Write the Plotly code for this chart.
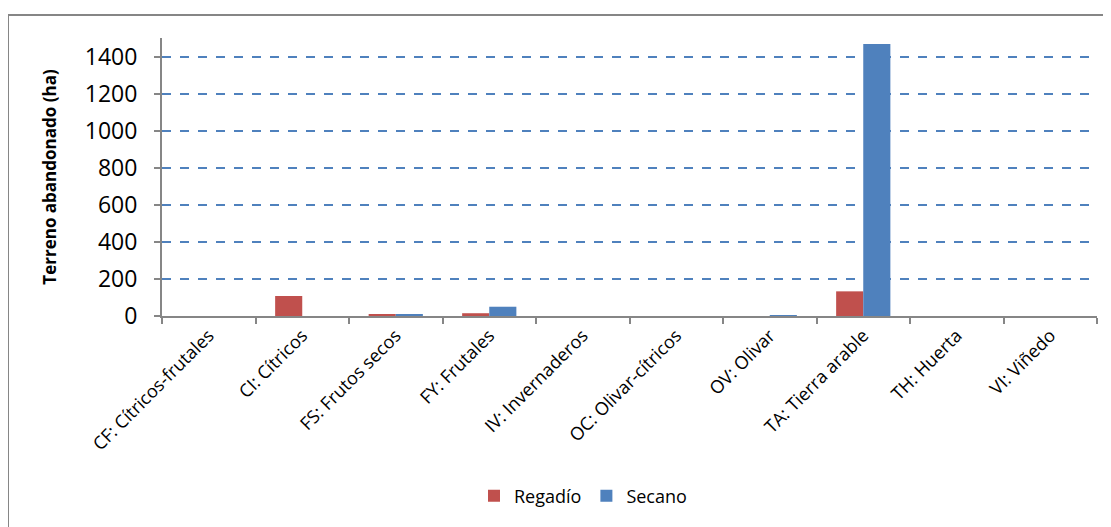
import plotly.graph_objects as go

categories = ["CF: Cítricos-frutales", "CI: Cítricos", "FS: Frutos secos", "FY: Frutales",
              "IV: Invernaderos", "OC: Olivar-cítricos", "OV: Olivar", "TA: Tierra arable",
              "TH: Huerta", "VI: Viñedo"]
regadio = [0, 108, 10, 15, 0, 0, 0, 133, 0, 0]
secano = [0, 0, 10, 50, 0, 0, 2, 1468, 0, 0]
y_ticks = [0, 200, 400, 600, 800, 1000, 1200, 1400]

FONT = "Open Sans"

fig = go.Figure()
fig.add_trace(go.Bar(x=categories, y=regadio, name="Regadío",
                     marker=dict(color="#C0504D", line=dict(width=0))))
fig.add_trace(go.Bar(x=categories, y=secano, name="Secano",
                     marker=dict(color="#4F81BD", line=dict(width=0))))

# page has 8px body margin: figure pixel = page pixel - 8
L, R, T, B = 154, 22, 30, 219
PW = 1111 - L - R
PH = 527 - T - B

fig.update_layout(
    width=1111, height=527,
    margin=dict(l=L, r=R, t=T, b=B),
    plot_bgcolor="white", paper_bgcolor="white",
    barmode="group", bargap=0.42, bargroupgap=0,
    font=dict(family=FONT, color="black"),
    showlegend=True,
    legend=dict(orientation="h", x=(466 - L) / PW, xanchor="left",
                y=(308 - 488) / PH, yanchor="middle",
                font=dict(size=18, family=FONT), itemwidth=30, traceorder="normal"),
    xaxis=dict(
        type="category", tickangle=-45, tickfont=dict(size=18, family=FONT),
        showline=True, linecolor="#868686", linewidth=2,
        ticks="outside", tickson="boundaries", ticklen=6, tickcolor="#868686", tickwidth=2,
        showgrid=False, range=[-0.5, 9.5],
    ),
    yaxis=dict(
        range=[0, 1500], tickvals=y_ticks, tickfont=dict(size=23, family=FONT),
        showline=True, linecolor="#868686", linewidth=2,
        ticks="outside", ticklen=6, tickcolor="#868686", tickwidth=2,
        ticklabelstandoff=12,
        showgrid=True, gridcolor="#4F81BD", griddash="dash", gridwidth=1.5,
        zeroline=False,
        title=dict(text="<b>Terreno abandonado (ha)</b>", font=dict(size=17, family=FONT), standoff=24),
    ),
)

fig.add_shape(type="rect", xref="paper", yref="paper",
              x0=(0 - L) / PW, x1=(1140 - L) / PW,
              y0=-(560 - (T + PH)) / PH,
              y1=(T + PH - 7) / PH,
              line=dict(color="#868686", width=2), fillcolor="rgba(0,0,0,0)", layer="below")

fig.write_html("out.html")
